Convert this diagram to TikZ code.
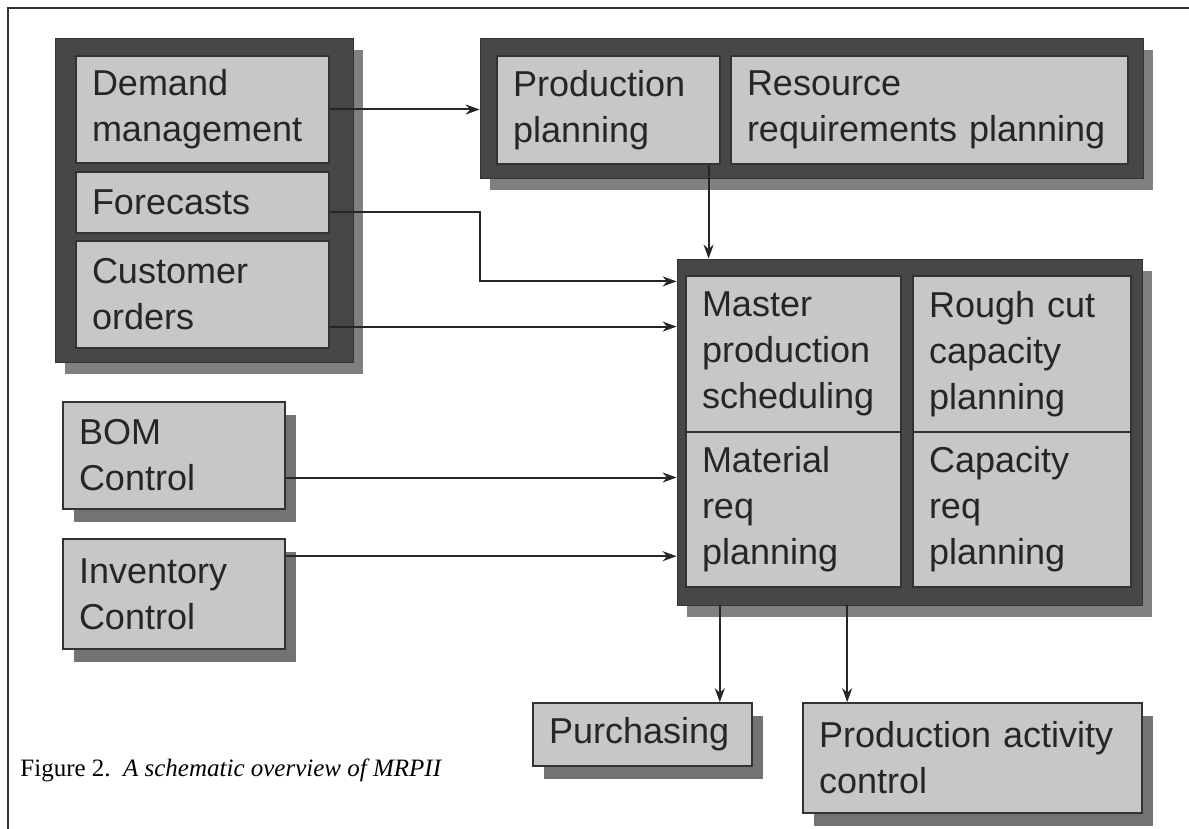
\documentclass[tikz,border=0pt]{standalone}
\usepackage{fontspec}
\setmainfont{Liberation Sans}
\newfontfamily\capfont{Liberation Serif}
\usetikzlibrary{shadows,arrows.meta}

\begin{document}
\begin{tikzpicture}
        [x=0.5pt, y=-0.5pt,
        font=\fontsize{18}{23}\selectfont,
        cell/.style={rectangle, fill=black!22, draw=black!80, text=black!85,
        align=left, inner xsep=8pt, inner ysep=0pt, line width=0.6pt},
        solo/.style={cell, line width=0.8pt, drop shadow={shadow xshift=5.5pt,
        shadow yshift=-6.5pt, fill=black!55, opacity=1}},
        grp/.style={rectangle, fill=black!72, draw=black!80, inner sep=0pt,
        drop shadow={shadow xshift=5pt, shadow yshift=-6pt, fill=black!50, opacity=1}},
        lnk/.style={draw=black!85, line width=1pt, -{Stealth[length=7pt, width=5pt]}}]
        \useasboundingbox (0,0) rectangle (1189,829);
        \draw[line width=0.8pt, black!80] (8,829) -- (8,8) -- (1189,8);

        \node[grp, minimum width=149pt, minimum height=162pt] (leftgrp) at (204,200) {};
        \node[grp, minimum width=331.5pt, minimum height=70pt] (topgrp) at (811.5,108) {};
        \node[grp, minimum width=232.5pt, minimum height=173pt] (big) at (909.5,432) {};

        \node[cell, text width=110.5pt, minimum height=53.5pt] (dem) at (202.5,109.5) {Demand\\management};
        \node[cell, text width=110.5pt, minimum height=30.5pt] (fore) at (202.5,202.5) {Forecasts};
        \node[cell, text width=110.5pt, minimum height=53.5pt] (cust) at (202.5,294.5) {Customer\\orders};
        \node[cell, text width=95.5pt, minimum height=54pt] (prod) at (608.5,110) {Production\\planning};
        \node[cell, text width=182.5pt, minimum height=54pt] (res) at (929.5,110) {Resource\\requirements planning};
        \node[cell, text width=91.5pt, minimum height=78pt] (mps) at (793.5,354) {Master\\production\\scheduling};
        \node[cell, text width=93pt, minimum height=78pt] (rccp) at (1022,354) {Rough cut\\capacity\\planning};
        \node[cell, text width=91.5pt, minimum height=77.5pt] (mrp) at (793.5,509.5) {Material\\req\\planning};
        \node[cell, text width=93pt, minimum height=77.5pt] (crp) at (1022,509.5) {Capacity\\req\\planning};
        \node[solo, text width=95pt, minimum height=53.5pt] (bom) at (174,455.5) {BOM\\Control};
        \node[solo, text width=95pt, minimum height=55pt] (inv) at (174,594) {Inventory\\Control};
        \node[solo, text width=93.5pt, minimum height=31.5pt] (purch) at (642.5,734.5) {Purchasing};
        \node[solo, text width=153.5pt, minimum height=55pt] (pac) at (972.5,758) {Production activity\\control};

        \coordinate (fk) at ([yshift=-4.5pt]fore.east);
        \coordinate (mk) at ([yshift=-3pt]mps.north west);
        \coordinate (ck) at ([yshift=11pt]cust.south east);
        \coordinate (pk) at ([xshift=-6pt]prod.south east);
        \coordinate (bk) at ([yshift=-11pt]bom.east);
        \coordinate (ik) at ([yshift=-9pt]inv.north east);
        \coordinate (uk) at ([xshift=-16.5pt]purch.north east);
        \coordinate (ak) at ([xshift=22.5pt]pac.north west);

        \draw[lnk] (dem.east) -- (dem.east -| topgrp.west);
        \draw[lnk] (fk) -- (fk -| topgrp.west) |- (mk -| big.west);
        \draw[lnk] (ck) -- (ck -| big.west);
        \draw[lnk] (pk) -- (pk |- big.north);
        \draw[lnk] (bk) -- (bk -| big.west);
        \draw[lnk] (ik) -- (ik -| big.west);
        \draw[lnk] (uk |- big.south) -- (uk);
        \draw[lnk] (ak |- big.south) -- (ak);

        \node[anchor=base west, inner sep=0pt, font=\capfont\fontsize{12.5}{15}\selectfont]
            (cap) at (20,776) {Figure 2.\enspace\textit{A schematic overview of MRPII}};
\end{tikzpicture}
\end{document}
